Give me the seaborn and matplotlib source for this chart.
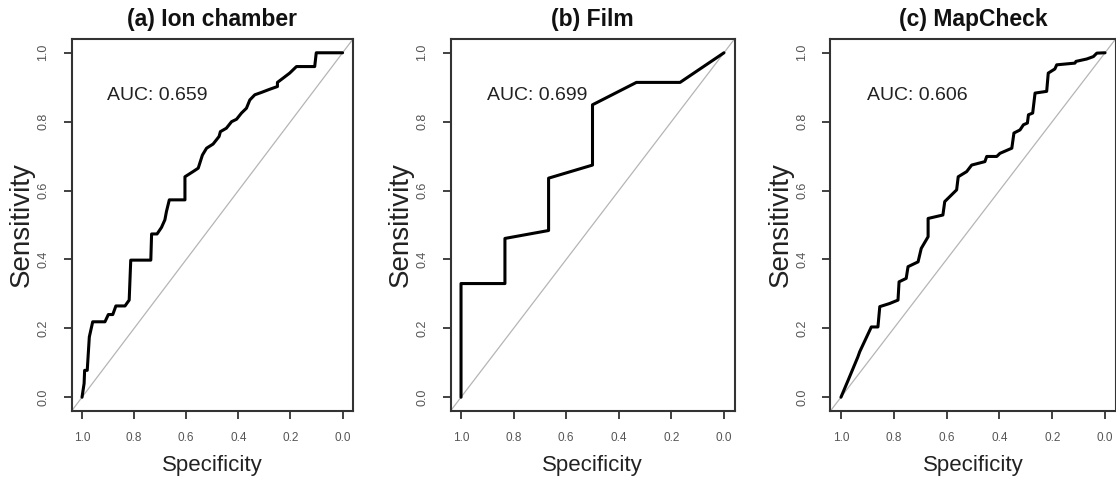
import numpy as np
import pandas as pd
import matplotlib
matplotlib.use("Agg")
import matplotlib.pyplot as plt
import seaborn as sns

# ---------------- data ----------------
titles = ["(a) Ion chamber", "(b) Film", "(c) MapCheck"]
auc_labels = ["AUC: 0.659", "AUC: 0.699", "AUC: 0.606"]

ion_spec = [1.0, 0.992, 0.99, 0.98, 0.972, 0.959, 0.912, 0.899, 0.882, 0.87, 0.835,
            0.819, 0.813, 0.736, 0.733, 0.712, 0.695, 0.682, 0.676, 0.665, 0.605,
            0.605, 0.574, 0.554, 0.538, 0.522, 0.497, 0.474, 0.469, 0.446, 0.426,
            0.407, 0.388, 0.369, 0.356, 0.337, 0.311, 0.28, 0.25, 0.25, 0.229,
            0.203, 0.177, 0.107, 0.101, 0.0]
ion_sens = [0.0, 0.04, 0.078, 0.078, 0.175, 0.219, 0.219, 0.24, 0.24, 0.265, 0.265,
            0.282, 0.398, 0.398, 0.474, 0.474, 0.493, 0.515, 0.539, 0.573, 0.573,
            0.64, 0.655, 0.665, 0.703, 0.723, 0.735, 0.757, 0.771, 0.781, 0.80,
            0.807, 0.825, 0.839, 0.863, 0.878, 0.885, 0.894, 0.902, 0.914, 0.926,
            0.941, 0.96, 0.96, 1.0, 1.0]

film_spec = [1.0, 1.0, 0.833, 0.833, 0.667, 0.667, 0.5, 0.5, 0.333, 0.167, 0.0]
film_sens = [0.0, 0.33, 0.33, 0.461, 0.484, 0.636, 0.674, 0.849, 0.914, 0.914, 1.0]

map_spec = [1.0, 0.973, 0.936, 0.929, 0.885, 0.86, 0.853, 0.816, 0.784, 0.78, 0.753,
            0.746, 0.708, 0.696, 0.67, 0.67, 0.614, 0.607, 0.562, 0.556, 0.524,
            0.505, 0.455, 0.448, 0.41, 0.398, 0.353, 0.345, 0.322, 0.309, 0.294,
            0.29, 0.274, 0.265, 0.221, 0.215, 0.19, 0.183, 0.114, 0.11, 0.069,
            0.044, 0.031, 0.0]
map_sens = [0.0, 0.049, 0.117, 0.132, 0.204, 0.204, 0.263, 0.272, 0.282, 0.335, 0.345,
            0.379, 0.393, 0.432, 0.466, 0.519, 0.529, 0.568, 0.602, 0.64, 0.655,
            0.674, 0.684, 0.699, 0.699, 0.708, 0.723, 0.767, 0.776, 0.791, 0.796,
            0.82, 0.825, 0.883, 0.888, 0.941, 0.953, 0.965, 0.97, 0.975, 0.982,
            0.989, 0.999, 1.0]

specs = [ion_spec, film_spec, map_spec]
senss = [ion_sens, film_sens, map_sens]

tick_vals = [1.0, 0.8, 0.6, 0.4, 0.2, 0.0]
tick_labels = ["1.0", "0.8", "0.6", "0.4", "0.2", "0.0"]
ytick_vals = [0.0, 0.2, 0.4, 0.6, 0.8, 1.0]
ytick_labels = ["0.0", "0.2", "0.4", "0.6", "0.8", "1.0"]

# ---------------- styling ----------------
sns.set_style("white")
plt.rcParams["font.family"] = ["Liberation Sans", "DejaVu Sans"]

W, H = 1116, 482
fig = plt.figure(figsize=(W / 100, H / 100), dpi=100)

# axes boxes in pixels (left, right)
lefts = [71.6, 450.5, 830.4]
rights = [353.0, 734.5, 1115.6]
top_px, bot_px = 39.0, 411.0

for i in range(3):
    l, r = lefts[i], rights[i]
    ax = fig.add_axes([l / W, 1 - bot_px / H, (r - l) / W, (bot_px - top_px) / H])
    df = pd.DataFrame({"Specificity": specs[i], "Sensitivity": senss[i]})
    ax.axline((1.0, 0.0), (0.0, 1.0), color="#b5b5b5", lw=0.9, zorder=1)
    sns.lineplot(data=df, x="Specificity", y="Sensitivity", sort=False,
                 estimator=None, color="black", lw=2.2, ax=ax, zorder=3)
    ax.set_xlim(1.04, -0.04)
    ax.set_ylim(-0.04, 1.04)
    ax.set_xticks(tick_vals)
    ax.set_xticklabels(tick_labels, fontsize=8.5, color="#555555")
    ax.set_yticks(ytick_vals)
    ax.set_yticklabels(ytick_labels, fontsize=9, color="#555555",
                       rotation=90, va="center")
    ax.tick_params(axis="x", direction="out", length=6, width=1.3,
                   color="#333333", pad=9, bottom=True)
    ax.tick_params(axis="y", direction="out", length=6, width=1.3,
                   color="#333333", pad=10, left=True)
    for s in ax.spines.values():
        s.set_color("#333333")
        s.set_linewidth(1.5)
    ax.set_xlabel("Specificity", fontsize=16, color="#222222")
    ax.set_ylabel("Sensitivity", fontsize=20, color="#222222")
    ax.xaxis.set_label_coords(0.5, -(466 - bot_px) / (bot_px - top_px))
    ax.xaxis.label.set_va("center")
    ax.yaxis.set_label_coords(-49.5 / (r - l), 0.5)
    ax.yaxis.label.set_va("center")
    ax.yaxis.label.set_ha("center")
    ax.set_title(titles[i], fontsize=16.5, fontweight="bold", pad=9.5,
                 color="#111111")
    ax.text(0.71, 0.875, auc_labels[i], fontsize=14, ha="center", va="center",
            color="#222222")

fig.savefig("out.png", dpi=100)
